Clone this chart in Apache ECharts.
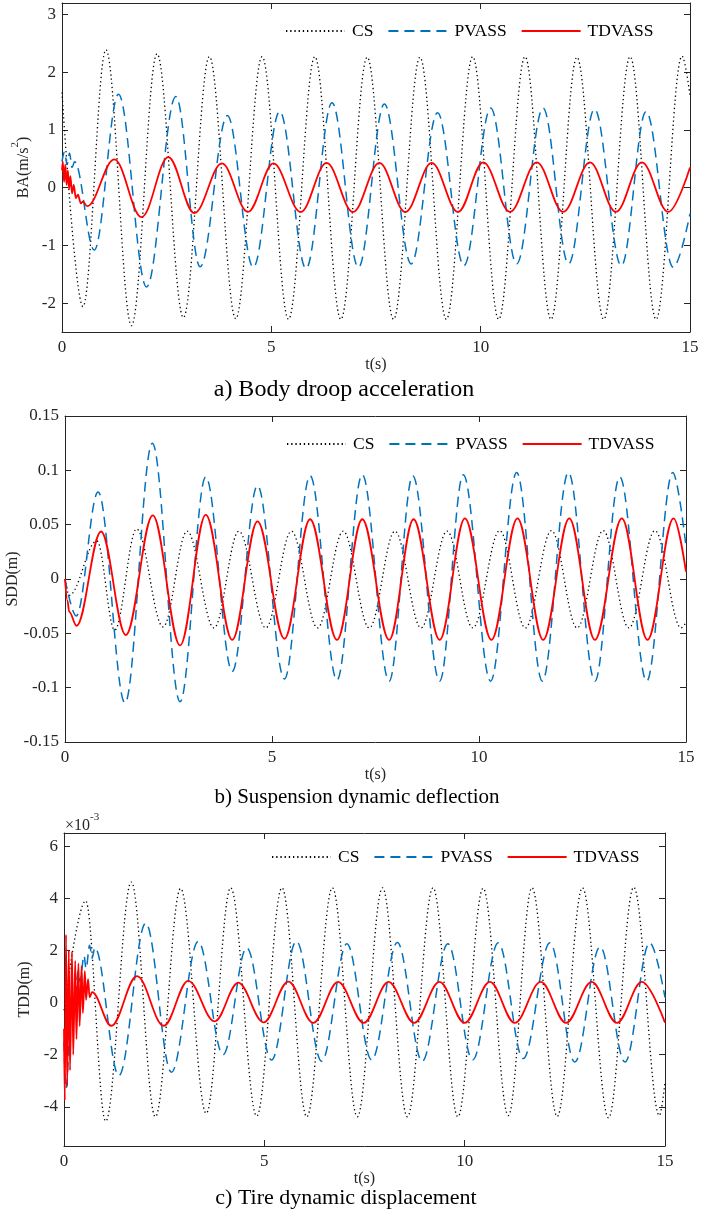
<!DOCTYPE html>
<html><head><meta charset="utf-8">
<script src="https://cdn.jsdelivr.net/npm/echarts@6/dist/echarts.min.js"></script>
<style>html,body{margin:0;padding:0;background:#fff}#c{width:701px;height:1215px}</style>
</head><body><div id="c"></div>
<script>
// ---- data: [t (s), value] pairs ----
const seriesNames = ['CS', 'PVASS', 'TDVASS'];
const xTicks = [0, 5, 10, 15];
const baTicks = [-2, -1, 0, 1, 2, 3];
const sddTicks = [-0.15, -0.1, -0.05, 0, 0.05, 0.1, 0.15];
const tddTicks = [-4, -2, 0, 2, 4, 6];

// a) Body droop acceleration (m/s^2)
const baCS = [[0,1.65],[0.5,-2.06],[1.05,2.39],[1.66,-2.39],[2.27,2.32],[2.9,-2.25],[3.52,2.27],[4.15,-2.27],[4.78,2.27],[5.41,-2.28],[6.04,2.27],[6.66,-2.28],[7.29,2.26],[7.92,-2.28],[8.55,2.26],[9.18,-2.28],[9.81,2.27],[10.43,-2.28],[11.06,2.27],[11.68,-2.28],[12.3,2.26],[12.94,-2.28],[13.57,2.27],[14.19,-2.28],[14.81,2.28],[15,1.6]];
const baPVASS = [[0,0.45],[0.06,0.62],[0.12,0.4],[0.18,0.6],[0.24,0.35],[0.3,0.45],[0.77,-1.08],[1.35,1.62],[2.02,-1.72],[2.72,1.58],[3.3,-1.37],[3.95,1.25],[4.57,-1.38],[5.2,1.32],[5.83,-1.4],[6.45,1.47],[7.08,-1.38],[7.7,1.45],[8.34,-1.32],[8.97,1.3],[9.6,-1.35],[10.24,1.38],[10.86,-1.32],[11.49,1.38],[12.1,-1.32],[12.72,1.36],[13.36,-1.35],[13.95,1.32],[14.6,-1.38],[15,-0.45]];
const baTDVASS = [[0,0.3],[0.02,0.45],[0.05,0.1],[0.08,0.4],[0.11,0.05],[0.14,0.3],[0.17,-0.02],[0.2,0.2],[0.24,-0.1],[0.28,0.05],[0.33,-0.18],[0.38,-0.12],[0.45,-0.27],[0.5,-0.24],[0.6,-0.32],[1.25,0.49],[1.9,-0.51],[2.54,0.53],[3.16,-0.44],[3.82,0.42],[4.44,-0.42],[5.05,0.42],[5.7,-0.42],[6.32,0.43],[6.95,-0.42],[7.58,0.43],[8.2,-0.42],[8.83,0.43],[9.46,-0.42],[10.06,0.44],[10.7,-0.42],[11.34,0.44],[11.97,-0.42],[12.61,0.44],[13.23,-0.42],[13.85,0.44],[14.48,-0.42],[15,0.35]];

// b) Suspension dynamic deflection (m)
const sddCS = [[0,0],[0.1,-0.015],[0.77,0.035],[1.2,-0.047],[1.73,0.046],[2.37,-0.044],[2.95,0.044],[3.6,-0.045],[4.2,0.044],[4.85,-0.045],[5.47,0.044],[6.1,-0.045],[6.72,0.044],[7.35,-0.045],[7.97,0.044],[8.6,-0.045],[9.23,0.044],[9.85,-0.045],[10.5,0.0445],[11.12,-0.045],[11.75,0.0445],[12.37,-0.045],[13.0,0.0445],[13.62,-0.045],[14.25,0.0445],[14.88,-0.045],[15,-0.04]];
const sddPVASS = [[0,0],[0.27,-0.034],[0.8,0.08],[1.45,-0.114],[2.11,0.125],[2.78,-0.113],[3.4,0.094],[4.04,-0.085],[4.65,0.086],[5.3,-0.092],[5.92,0.095],[6.57,-0.093],[7.18,0.096],[7.83,-0.094],[8.4,0.095],[9.05,-0.094],[9.62,0.096],[10.28,-0.094],[10.91,0.098],[11.53,-0.094],[12.16,0.098],[12.8,-0.094],[13.4,0.094],[14.05,-0.094],[14.68,0.098],[15,0.03]];
const sddTDVASS = [[0,0],[0.06,-0.02],[0.1,-0.03],[0.28,-0.043],[0.87,0.0437],[1.47,-0.0516],[2.12,0.0585],[2.78,-0.061],[3.4,0.059],[4.04,-0.056],[4.65,0.053],[5.3,-0.055],[5.92,0.055],[6.57,-0.056],[7.18,0.055],[7.83,-0.056],[8.42,0.055],[9.05,-0.056],[9.66,0.0558],[10.3,-0.056],[10.93,0.0558],[11.55,-0.056],[12.18,0.0558],[12.8,-0.056],[13.45,0.0558],[14.07,-0.056],[14.7,0.0558],[15,0.0067]];

// c) Tire dynamic displacement (m, x10^-3)
const tddCS = [[0,-0.3],[0.54,3.9],[1.04,-4.55],[1.68,4.62],[2.28,-4.38],[2.91,4.37],[3.55,-4.25],[4.16,4.4],[4.81,-4.35],[5.44,4.4],[6.06,-4.38],[6.7,4.4],[7.32,-4.38],[7.95,4.4],[8.57,-4.38],[9.21,4.4],[9.83,-4.38],[10.46,4.38],[11.09,-4.33],[11.68,4.4],[12.31,-4.37],[12.94,4.4],[13.59,-4.42],[14.22,4.42],[14.86,-4.33],[15,-3.05]];
const tddPVASS = [[0,-1.5],[0.05,-3.3],[0.2,0.5],[0.25,-0.5],[0.35,1.2],[0.4,0.8],[0.5,1.8],[0.55,1.3],[0.64,2.2],[0.7,1.7],[0.77,2.1],[1.37,-2.8],[2.04,3.04],[2.68,-2.67],[3.35,2.34],[3.97,-2.0],[4.56,2.1],[5.18,-2.2],[5.8,2.35],[6.43,-2.25],[7.06,2.25],[7.68,-2.2],[8.32,2.3],[8.94,-2.25],[9.58,2.25],[10.2,-2.2],[10.84,2.29],[11.46,-2.15],[12.13,2.29],[12.75,-2.28],[13.38,2.14],[14.0,-2.28],[14.62,2.29],[15,0.2]];
const tddTDVASS = [[0,-1.0],[0.02,-3.75],[0.05,2.6],[0.08,-3.2],[0.12,2.0],[0.15,-2.6],[0.2,1.95],[0.23,-2.0],[0.28,1.6],[0.31,-1.4],[0.36,1.5],[0.39,-0.9],[0.44,1.4],[0.47,-0.4],[0.52,1.2],[0.55,0.1],[0.6,0.9],[0.64,0.2],[0.7,0.4],[1.18,-0.89],[1.82,1.01],[2.49,-0.89],[3.1,0.83],[3.76,-0.72],[4.35,0.76],[4.98,-0.76],[5.6,0.8],[6.22,-0.78],[6.84,0.79],[7.48,-0.78],[8.1,0.79],[8.74,-0.78],[9.37,0.79],[10.0,-0.78],[10.63,0.79],[11.25,-0.78],[11.9,0.79],[12.53,-0.78],[13.17,0.79],[13.8,-0.78],[14.42,0.79],[15,-0.77]];

// ---- layout / style ----
const FONT = 'Liberation Serif';
const AX = '#262626';
const grids = [
  {left: 62, top: 3, width: 628, height: 329, outerBoundsMode: 'none', containLabel: false},
  {left: 65, top: 416, width: 621, height: 326, outerBoundsMode: 'none', containLabel: false},
  {left: 64, top: 833, width: 601, height: 313, outerBoundsMode: 'none', containLabel: false}
];
const richSup = {
  n: {fontSize: 16, fontFamily: FONT, color: AX, lineHeight: 22, verticalAlign: 'bottom'},
  s: {fontSize: 11, fontFamily: FONT, color: AX, lineHeight: 11, verticalAlign: 'top'}
};
const panels = [
  {data: [baCS, baPVASS, baTDVASS], min: -2.5, max: 3.2, ticks: baTicks, name: '{n|BA(m/s}{s|2}{n|)}', gap: 30, fmt: v => String(v)},
  {data: [sddCS, sddPVASS, sddTDVASS], min: -0.15, max: 0.15, ticks: sddTicks, name: 'SDD(m)', gap: 44, fmt: v => String(+v.toFixed(2))},
  {data: [tddCS, tddPVASS, tddTDVASS], min: -5.5, max: 6.5, ticks: tddTicks, name: 'TDD(m)', gap: 31, fmt: v => String(v)}
];
const lineStyles = [
  {color: '#000000', width: 1.3, type: [1.3, 2.9]},
  {color: '#0072BD', width: 1.5, type: [10, 6]},
  {color: '#FF0000', width: 1.8, type: 'solid'}
];

const xAxis = [], yAxis = [], series = [];
panels.forEach((p, i) => {
  ['bottom', 'top'].forEach(pos => {
    xAxis.push({
      type: 'value', gridIndex: i, position: pos, min: 0, max: 15, interval: 5,
      axisLine: {show: true, onZero: false, lineStyle: {color: AX, width: 1}},
      axisTick: {show: true, inside: true, length: 6, lineStyle: {color: AX}, customValues: xTicks},
      axisLabel: {show: pos === 'bottom', customValues: xTicks, color: AX, fontFamily: FONT, fontSize: 17, margin: 7},
      splitLine: {show: false},
      name: pos === 'bottom' ? 't(s)' : '', nameLocation: 'middle', nameGap: 25, nameMoveOverlap: false,
      nameTextStyle: {color: AX, fontFamily: FONT, fontSize: 16}
    });
  });
  ['left', 'right'].forEach(pos => {
    yAxis.push({
      type: 'value', gridIndex: i, position: pos, min: p.min, max: p.max,
      axisLine: {show: true, onZero: false, lineStyle: {color: AX, width: 1}},
      axisTick: {show: true, inside: true, length: 6, lineStyle: {color: AX}, customValues: p.ticks},
      axisLabel: {show: pos === 'left', customValues: p.ticks, formatter: p.fmt, color: AX, fontFamily: FONT, fontSize: 17, margin: 6},
      splitLine: {show: false},
      name: pos === 'left' ? p.name : '', nameLocation: 'middle', nameGap: p.gap, nameRotate: 90, nameMoveOverlap: false,
      nameTextStyle: {color: AX, fontFamily: FONT, fontSize: 16, rich: richSup}
    });
  });
  p.data.forEach((d, k) => {
    series.push({
      type: 'line', name: seriesNames[k], xAxisIndex: 2 * i, yAxisIndex: 2 * i,
      data: d, symbol: 'none', showSymbol: false, smooth: 0.36, smoothMonotone: 'x',
      lineStyle: lineStyles[k], itemStyle: {color: lineStyles[k].color},
      z: 2 + k, animation: false
    });
  });
});

const legend = [0, 1, 2].map(i => ({
  left: [285, 286, 271][i], top: [22, 435, 848][i], padding: 0,
  itemWidth: 59, itemHeight: 14, itemGap: 14, selectedMode: false,
  itemStyle: {opacity: 0},
  textStyle: {fontFamily: FONT, fontSize: 17.5, color: '#000', padding: [0, 0, 0, 2]},
  data: seriesNames
}));

const captions = [
  {x: 344, y: 390, t: 'a) Body droop acceleration', fs: 24},
  {x: 357, y: 797, t: 'b) Suspension dynamic deflection', fs: 21},
  {x: 346, y: 1198, t: 'c) Tire dynamic displacement', fs: 22}
];
const graphic = captions.map(c => ({
  type: 'text', x: c.x, y: c.y,
  style: {text: c.t, font: c.fs + 'px "Liberation Serif"', fill: '#000', textAlign: 'center', textVerticalAlign: 'middle'}
}));
graphic.push({
  type: 'text', x: 65, y: 823,
  style: {text: '{n|×10}{s|-3}', textVerticalAlign: 'middle',
    rich: {
      n: {fontSize: 16, fontFamily: FONT, fill: AX, lineHeight: 22, verticalAlign: 'bottom'},
      s: {fontSize: 11, fontFamily: FONT, fill: AX, lineHeight: 11, verticalAlign: 'top'}
    }}
});

const chart = echarts.init(document.getElementById('c'), null, {renderer: 'canvas'});
chart.setOption({
  animation: false, backgroundColor: '#fff',
  grid: grids, xAxis, yAxis, series, legend, graphic
});
</script></body></html>
